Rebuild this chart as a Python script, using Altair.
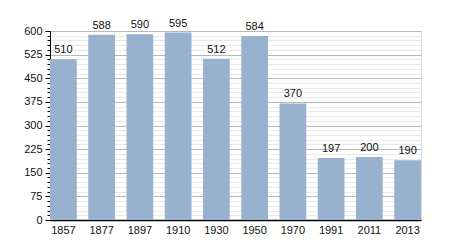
import altair as alt
import pandas as pd

years = ["1857", "1877", "1897", "1910", "1930", "1950", "1970", "1991", "2011", "2013"]
population = [510, 588, 590, 595, 512, 584, 370, 197, 200, 190]

minor_ticks = list(range(0, 601, 15))
major_ticks = list(range(0, 601, 75))

df = pd.DataFrame({"year": years, "pop": population})

FONT = "Liberation Sans"

xscale = alt.Scale(paddingInner=0.3, paddingOuter=0)
x_axis = alt.Axis(labelAngle=0, labelFont=FONT, labelFontSize=11, labelColor="#111",
                  domainColor="#000", domainWidth=1.5, ticks=False, labelPadding=4, grid=False)
x_enc = alt.X("year:N", sort=years, title=None, scale=xscale, axis=x_axis)

yscale = alt.Scale(domain=[0, 600], nice=False)

minor = alt.Chart(df).mark_bar(opacity=0).encode(
    x=x_enc,
    y=alt.Y("pop:Q", scale=yscale, title=None,
            axis=alt.Axis(orient="left", values=minor_ticks, labels=False, grid=True,
                          gridColor="#e9e9e9", tickSize=3, tickColor="#000", domain=False)),
)

bars = alt.Chart(df).mark_bar(color="#98b1cf").encode(
    x=x_enc,
    y=alt.Y("pop:Q", scale=yscale, title=None,
            axis=alt.Axis(orient="left", values=major_ticks, grid=True, gridColor="#b8b8b8",
                          tickSize=5, tickColor="#000", domainColor="#000",
                          labelFont=FONT, labelFontSize=11, labelColor="#111", labelPadding=3)),
)

text = alt.Chart(df).mark_text(dy=-9, font=FONT, fontSize=11, color="#111").encode(
    x=x_enc,
    y=alt.Y("pop:Q", scale=yscale, axis=None),
    text="pop:Q",
)

chart = alt.layer(minor, bars, text).resolve_axis(y="independent").properties(
    width=371, height=189,
    padding={"left": 50, "top": 31, "right": 29, "bottom": 30},
    autosize=alt.AutoSizeParams(type="none"),
).configure_view(strokeWidth=0, stroke="transparent").configure(background="white")

chart.save("out.html", embed_options={"renderer": "svg", "actions": False})
